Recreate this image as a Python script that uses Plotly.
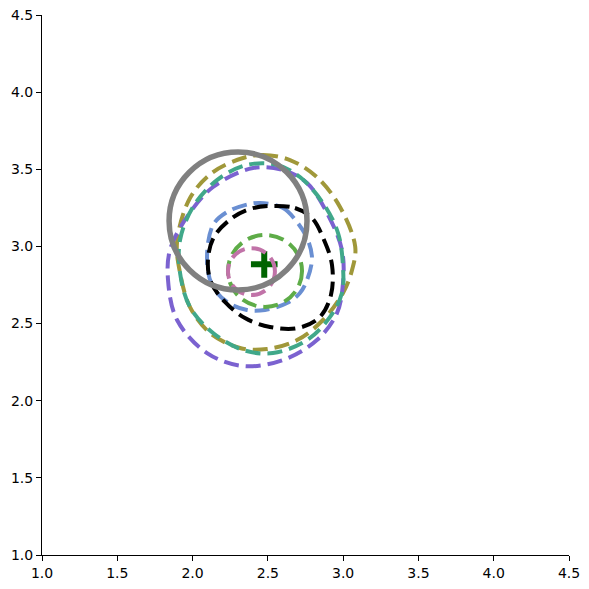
import plotly.graph_objects as go

# ---- data ----
TICKS = [1.0, 1.5, 2.0, 2.5, 3.0, 3.5, 4.0, 4.5]
AXIS_RANGE = [1.0, 4.5]

olive_x = [2.335, 2.468, 2.647, 2.826, 2.979, 3.080, 3.060, 2.999, 2.866, 2.694, 2.494, 2.315, 2.116, 1.983, 1.917, 1.897, 1.983, 2.136]
olive_y = [3.573, 3.593, 3.560, 3.450, 3.256, 3.000, 2.850, 2.698, 2.523, 2.393, 2.335, 2.342, 2.439, 2.607, 2.828, 3.029, 3.314, 3.482]

teal_x = [2.361, 2.561, 2.713, 2.866, 2.966, 2.999, 2.992, 2.913, 2.760, 2.534, 2.335, 2.136, 1.983, 1.917, 1.917, 2.003, 2.162]
teal_y = [3.528, 3.528, 3.450, 3.281, 3.087, 2.867, 2.698, 2.543, 2.393, 2.309, 2.329, 2.439, 2.607, 2.828, 3.042, 3.256, 3.430]

purple_x = [2.401, 2.601, 2.760, 2.893, 2.992, 2.999, 2.959, 2.826, 2.601, 2.335, 2.096, 1.897, 1.837, 1.850, 1.963, 2.136]
purple_y = [3.508, 3.495, 3.411, 3.217, 2.977, 2.763, 2.568, 2.393, 2.264, 2.225, 2.309, 2.523, 2.782, 2.977, 3.191, 3.385]

blue_x = [2.448, 2.601, 2.694, 2.760, 2.793, 2.760, 2.713, 2.627, 2.481, 2.361, 2.229, 2.129, 2.096, 2.136, 2.229, 2.348]
blue_y = [3.281, 3.249, 3.158, 3.055, 2.925, 2.782, 2.698, 2.633, 2.588, 2.588, 2.640, 2.750, 2.925, 3.139, 3.223, 3.268]

black_x = [2.514, 2.680, 2.793, 2.873, 2.926, 2.919, 2.846, 2.700, 2.514, 2.348, 2.215, 2.122, 2.102, 2.142, 2.262, 2.381]
black_y = [3.262, 3.249, 3.184, 3.042, 2.880, 2.685, 2.543, 2.471, 2.478, 2.536, 2.640, 2.769, 2.912, 3.061, 3.184, 3.243]

green_center = (2.481, 2.841)
green_radii = (0.246, 0.233)

pink_center = (2.391, 2.837)
pink_radii = (0.156, 0.152)

grey_center = (2.302, 3.165)
grey_radii = (0.458, 0.447)

marker_x = [2.476]
marker_y = [2.884]

# ---- figure ----
DASH = "15px,7px"
fig = go.Figure()

def closed(xs, ys):
    return list(xs) + [xs[0]], list(ys) + [ys[0]]

def ellipse_shape(center, radii, color, dash, width, layer):
    cx, cy = center
    rx, ry = radii
    return dict(type="circle", xref="x", yref="y",
                x0=cx - rx, x1=cx + rx, y0=cy - ry, y1=cy + ry,
                line=dict(color=color, width=width, dash=dash),
                fillcolor="rgba(0,0,0,0)", layer=layer)

curves = [
    (olive_x, olive_y, "#a0983a"),
    (purple_x, purple_y, "#7b62d0"),
    (teal_x, teal_y, "#40a88a"),
    (blue_x, blue_y, "#6a8fd2"),
    (black_x, black_y, "#000000"),
]
for xs, ys, col in curves:
    cx, cy = closed(xs, ys)
    fig.add_trace(go.Scatter(x=cx, y=cy, mode="lines",
                             line=dict(color=col, width=4, dash=DASH, shape="spline", smoothing=1.0),
                             hoverinfo="skip", showlegend=False))

shapes = [
    ellipse_shape(green_center, green_radii, "#5eac48", DASH, 4, "above"),
    ellipse_shape(pink_center, pink_radii, "#c173a8", DASH, 4, "above"),
    ellipse_shape(grey_center, grey_radii, "#808080", "solid", 5.5, "above"),
]

fig.add_trace(go.Scatter(x=marker_x, y=marker_y, mode="markers",
                         marker=dict(symbol="cross-thin", size=19,
                                     line=dict(color="#006400", width=6), color="#006400"),
                         hoverinfo="skip", showlegend=False))

axis_common = dict(range=AXIS_RANGE, tickvals=TICKS, ticktext=[f"{t:.1f}" for t in TICKS],
                   showgrid=False, zeroline=False, showline=True, linecolor="black", linewidth=1.1,
                   ticks="outside", ticklen=5, tickwidth=1.1, tickcolor="black", automargin=False,
                   tickfont=dict(family="DejaVu Sans", size=14, color="black"), mirror=False)

fig.update_layout(
    width=589, height=589,
    margin=dict(l=42, r=20, t=15, b=34, pad=0),
    paper_bgcolor="white", plot_bgcolor="white",
    xaxis=axis_common, yaxis=axis_common,
    shapes=shapes,
    showlegend=False,
)

fig.write_html("out.html",
               config={"displayModeBar": False},
               post_script="document.body.style.margin='0';document.body.style.overflow='hidden';")
